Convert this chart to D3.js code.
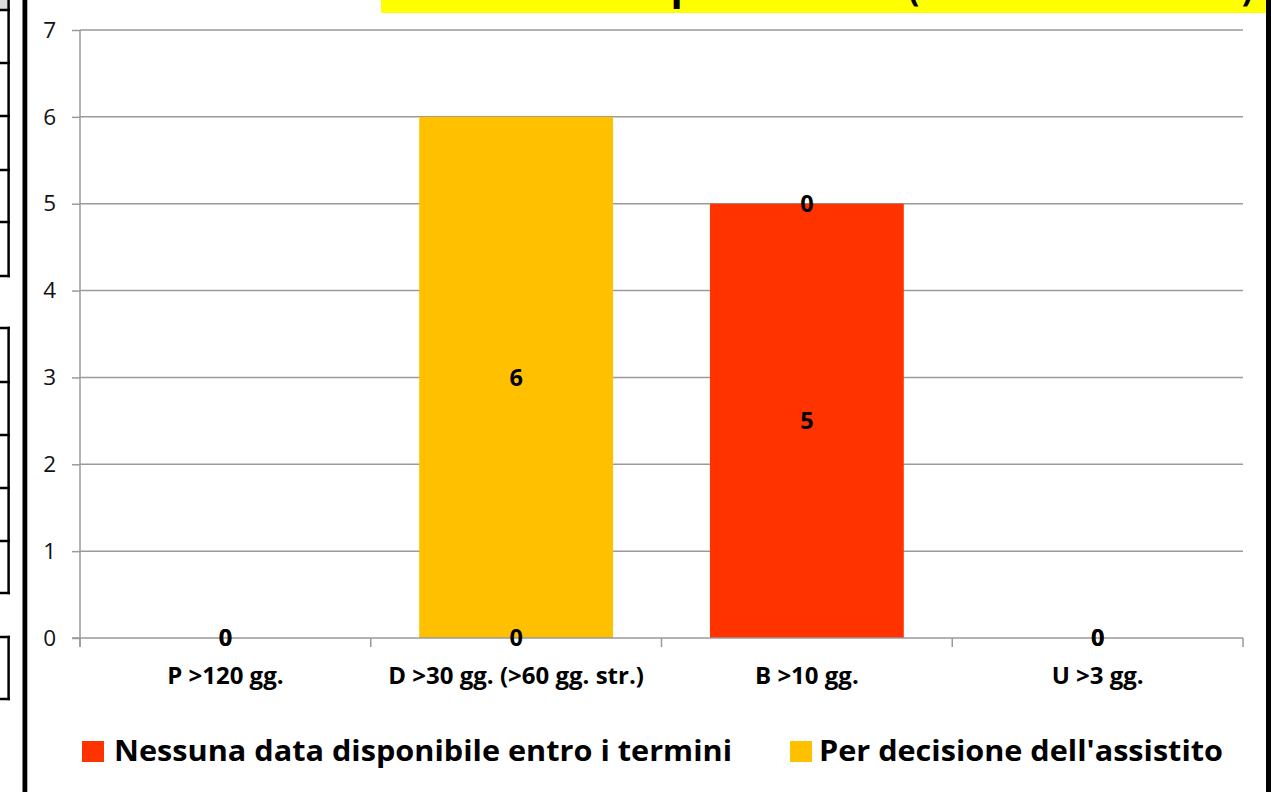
<!DOCTYPE html>
<html><head><meta charset="utf-8">
<script src="https://cdn.jsdelivr.net/npm/d3@7"></script>
<style>
html,body{margin:0;padding:0;background:#fff;overflow:hidden;}
svg{display:block;}
text{font-family:"Open Sans","Noto Sans",sans-serif;}
</style></head>
<body>
<svg id="c" width="1271" height="792"></svg>
<script>
// ---- data ----
const categories = ["P >120 gg.", "D >30 gg. (>60 gg. str.)", "B >10 gg.", "U >3 gg."];
const seriesNames = ["Nessuna data disponibile entro i termini", "Per decisione dell'assistito"];
const nessunaData = [0, 0, 5, 0];
const decisioneAssistito = [0, 6, 0, 0];
const yTicks = [0, 1, 2, 3, 4, 5, 6, 7];
const titlePart1 = "Motivi del superamento";
const titlePart2 = "(Ambito Territoriale)";

const colors = ["#FF3300", "#FFC000"];

const svg = d3.select("#c");
const W = 1271, H = 792;
const plot = {left: 80, right: 1243, top: 30, bottom: 638};

// ---- page decorations (surrounding sheet) ----
svg.append("rect").attr("x",0).attr("y",0).attr("width",W).attr("height",H).attr("fill","#fff");
svg.append("rect").attr("x",0).attr("y",0).attr("width",8).attr("height",10).attr("fill","#d9d9d9");
const boxGroups = [[10,63,116,170,222,276],[328,382,435,488,541,593],[637,699]];
boxGroups.forEach(g => {
  g.forEach(yy => svg.append("line").attr("x1",0).attr("x2",10).attr("y1",yy).attr("y2",yy)
    .attr("stroke","#000").attr("stroke-width",2.5));
  svg.append("line").attr("x1",8.6).attr("x2",8.6).attr("y1",g[0]-1.2).attr("y2",g[g.length-1]+1.2)
    .attr("stroke","#000").attr("stroke-width",2.5);
});
svg.append("line").attr("x1",8.6).attr("x2",8.6).attr("y1",0).attr("y2",10).attr("stroke","#000").attr("stroke-width",2.5);
svg.append("rect").attr("x",22.5).attr("y",0).attr("width",4.8).attr("height",H).attr("fill","#000");
svg.append("rect").attr("x",1266).attr("y",0).attr("width",5).attr("height",H).attr("fill","#000");
// title box (cut at the top, only descenders visible)
svg.append("rect").attr("x",381).attr("y",-40).attr("width",1266-381).attr("height",53).attr("fill","#FFFF00");
svg.append("text").attr("x",893).attr("y",0).attr("text-anchor","end")
  .attr("font-size",40).attr("font-weight","bold").attr("fill","#000").text(titlePart1);
svg.append("text").attr("x",908).attr("y",0).attr("textLength",345).attr("lengthAdjust","spacingAndGlyphs")
  .attr("font-size",40).attr("font-weight","bold").attr("fill","#000").text(titlePart2);

// ---- scales ----
const x = d3.scaleBand().domain(categories).range([plot.left, plot.right]).paddingInner(0).paddingOuter(0);
const y = d3.scaleLinear().domain([0, 7]).range([plot.bottom, plot.top]);

// gridlines
svg.append("g").selectAll("line").data(yTicks.filter(d => d > 0)).join("line")
  .attr("x1", plot.left).attr("x2", plot.right)
  .attr("y1", d => y(d)).attr("y2", d => y(d))
  .attr("stroke", "#9a9a9a").attr("stroke-width", 1.5);

// stacked data
const table = categories.map((c, i) => ({cat: c, s0: nessunaData[i], s1: decisioneAssistito[i]}));
const stacked = d3.stack().keys(["s0", "s1"])(table);

const bw = x.bandwidth();
const barW = bw * 2 / 3;
const gBars = svg.append("g");
stacked.forEach((layer, li) => {
  gBars.append("g").attr("fill", colors[li]).selectAll("rect").data(layer).join("rect")
    .attr("x", d => x(d.data.cat) + (bw - barW) / 2)
    .attr("width", barW)
    .attr("y", d => y(d[1]))
    .attr("height", d => y(d[0]) - y(d[1]));
});

// y axis
const yAxis = d3.axisLeft(y).tickValues(yTicks).tickSize(8).tickPadding(16).tickFormat(d3.format("d"));
const gy = svg.append("g").attr("transform", `translate(${plot.left},0)`).call(yAxis);
gy.select(".domain").attr("d", `M0,${plot.top}V${plot.bottom + 9}`).attr("stroke", "#9a9a9a").attr("stroke-width", 1.5);
gy.selectAll(".tick line").attr("stroke", "#9a9a9a").attr("stroke-width", 1.5);
gy.selectAll(".tick text").attr("font-size", 22.5).attr("fill", "#111").attr("font-family", "'Open Sans',sans-serif");

// x axis
const xAxis = d3.axisBottom(x).tickSize(0).tickPadding(0);
const gx = svg.append("g").attr("transform", `translate(0,${plot.bottom})`).call(xAxis);
gx.select(".domain").remove();
gx.append("line").attr("x1", plot.left - 8).attr("x2", plot.right).attr("y1", 0).attr("y2", 0)
  .attr("stroke", "#9a9a9a").attr("stroke-width", 1.5);
const boundaries = categories.map(c => x(c)).concat([x(categories[categories.length - 1]) + bw]);
gx.selectAll("line.bt").data(boundaries).join("line").attr("class", "bt")
  .attr("x1", d => d).attr("x2", d => d).attr("y1", 0).attr("y2", 9)
  .attr("stroke", "#9a9a9a").attr("stroke-width", 1.5);
gx.selectAll(".tick text").attr("font-size", 24).attr("font-weight", "bold").attr("fill", "#000")
  .attr("font-family", "'Open Sans',sans-serif").attr("dy", 0).attr("y", 46);

// data labels
const gLab = svg.append("g");
stacked.forEach((layer, li) => {
  gLab.append("g").selectAll("text").data(layer).join("text")
    .attr("x", d => x(d.data.cat) + bw / 2)
    .attr("y", d => y((d[0] + d[1]) / 2))
    .attr("dy", "0.36em")
    .attr("text-anchor", "middle")
    .attr("font-size", 23.5).attr("font-weight", "bold").attr("fill", "#000")
    .text(d => d[1] - d[0]);
});

// legend
const legendPos = [{sx: 82, tx: 114, tl: 618}, {sx: 790, tx: 819, tl: 404}];
const gLeg = svg.append("g");
seriesNames.forEach((name, i) => {
  gLeg.append("rect").attr("x", legendPos[i].sx).attr("y", 741).attr("width", 22).attr("height", 21).attr("fill", colors[i]);
  gLeg.append("text").attr("x", legendPos[i].tx).attr("y", 761)
    .attr("textLength", legendPos[i].tl).attr("lengthAdjust", "spacingAndGlyphs")
    .attr("font-size", 29).attr("font-weight", "bold").attr("fill", "#000").text(name);
});
</script>
</body></html>
